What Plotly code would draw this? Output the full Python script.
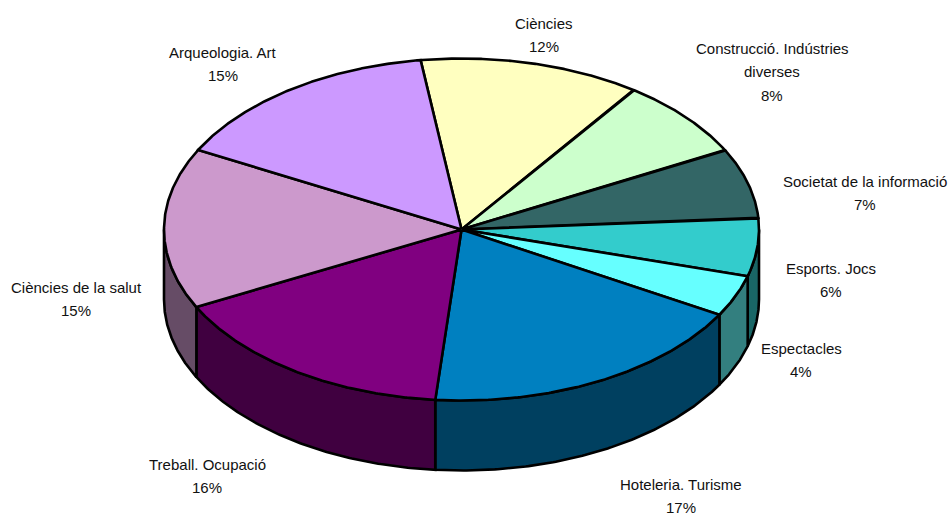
import numpy as np
import plotly.graph_objects as go

# Data (clockwise from the Ciències slice)
categories = ["Ciències", "Construcció. Indústries<br>diverses", "Societat de la informació",
              "Esports. Jocs", "Espectacles", "Hoteleria. Turisme", "Treball. Ocupació",
              "Ciències de la salut", "Arqueologia. Art"]
shares = [12.0, 7.5, 6.6, 5.5, 3.9, 18.1, 16.1, 15.2, 15.1]
pct_labels = ["12%", "8%", "7%", "6%", "4%", "17%", "16%", "15%", "15%"]

# Styling
colors = ["#FFFFC0", "#CCFFCC", "#336666", "#33CCCC", "#66FFFF", "#0080C0", "#800080", "#CC99CC", "#CC99FF"]
label_anchor = [(544, 23), (772, 48), (865, 181), (831, 268), (801, 348),
                (681, 484), (207, 464), (76, 287), (223, 52)]
CX, CY, RX, RY, DEPTH = 461.5, 229.5, 297.5, 171, 70
START = -7.9
LINE_H = 23.7
FONT = "Liberation Sans, Arial, sans-serif"
LW = 2.6


def pt(theta_deg):
    t = np.radians(theta_deg)
    return CX + RX * np.sin(t), CY - RY * np.cos(t)


def darken(h):
    return "#%02x%02x%02x" % tuple(int(h[i:i + 2], 16) // 2 for i in (1, 3, 5))


edges = START + np.cumsum([0] + shares) * 360.0 / sum(shares)
fig = go.Figure()

# Side walls: only the front half of the rim (90..270 degrees) is seen
for i, c in enumerate(colors):
    a, b = max(edges[i], 90), min(edges[i + 1], 270)
    if a >= b:
        continue
    x, y = pt(np.linspace(a, b, 120))
    fig.add_trace(go.Scatter(
        x=np.r_[x, x[::-1], x[0]], y=np.r_[y, y[::-1] + DEPTH, y[0]],
        mode="lines", fill="toself", fillcolor=darken(c),
        line=dict(color="black", width=LW, shape="linear"), hoverinfo="skip"))

# Top faces
for i, c in enumerate(colors):
    x, y = pt(np.linspace(edges[i], edges[i + 1], 160))
    fig.add_trace(go.Scatter(
        x=np.r_[CX, x, CX], y=np.r_[CY, y, CY],
        mode="lines", fill="toself", fillcolor=c,
        line=dict(color="black", width=LW), hoverinfo="skip"))

# Labels, one annotation per line
for name, pct, (lx, ly) in zip(categories, pct_labels, label_anchor):
    for j, line in enumerate(name.split("<br>") + [pct]):
        fig.add_annotation(x=lx, y=ly + j * LINE_H, text=line, showarrow=False,
                           xanchor="center", yanchor="middle",
                           font=dict(family=FONT, size=15, color="#111111"))

fig.update_layout(
    width=950, height=513, margin=dict(l=0, r=0, t=0, b=0), showlegend=False,
    paper_bgcolor="white", plot_bgcolor="white",
    xaxis=dict(range=[0, 950], visible=False, fixedrange=True),
    yaxis=dict(range=[513, 0], visible=False, fixedrange=True),
)
fig.write_html("out.html", config={"displayModeBar": False},
               post_script="document.body.style.margin='0';document.documentElement.style.overflow='hidden';")
